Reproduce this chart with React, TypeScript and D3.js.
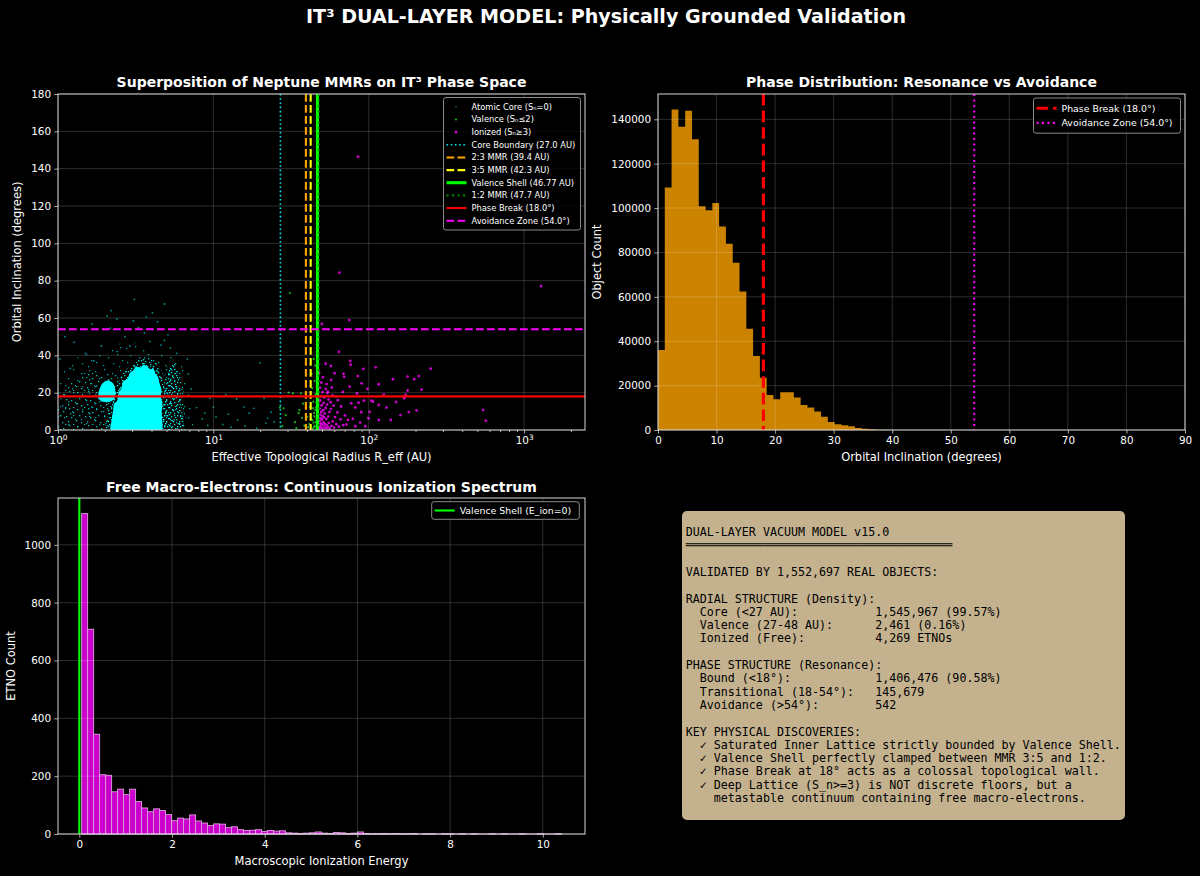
import { useEffect, useRef } from 'react';
import * as d3 from 'd3';

type Pt = [ number, number ];

const FONT = '"DejaVu Sans", sans-serif';
const MONO = '"DejaVu Sans Mono", monospace';
const FG = '#ffffff';
const SPINE = '#d6d6d6';

// ---------- panel 1: radius (AU) vs inclination (deg) ----------
const coreBoundaryAU = 27.0;
const mmr23AU = 39.4;
const mmr35AU = 42.3;
const valenceShellAU = 46.77;
const mmr12AU = 47.7;
const phaseBreakDeg = 18.0;
const avoidanceDeg = 54.0;

// saturated parts of the atomic core cloud (outlines)
const coreSaturated: Pt[][] = [
  [ [ 2.2, 0 ], [ 2.21, 5 ], [ 2.26, 10 ], [ 2.3, 14 ], [ 2.42, 16 ], [ 2.45, 20 ], [ 2.55, 22 ], [ 2.62, 26 ], [ 2.8, 27.5 ],
    [ 2.9, 30.5 ], [ 3.05, 32 ], [ 3.2, 34 ], [ 3.4, 33.5 ], [ 3.55, 35 ], [ 3.75, 34 ], [ 3.95, 32.5 ], [ 4.1, 33 ], [ 4.25, 30 ],
    [ 4.4, 28.5 ], [ 4.5, 25 ], [ 4.62, 22 ], [ 4.6, 18 ], [ 4.7, 14 ], [ 4.65, 9 ], [ 4.7, 4 ], [ 4.62, 0 ] ],
  [ [ 1.82, 17.5 ], [ 1.86, 22.5 ], [ 1.96, 25.5 ], [ 2.1, 26.5 ], [ 2.26, 25 ], [ 2.34, 21 ], [ 2.3, 16.5 ], [ 2.1, 15 ], [ 1.9, 15.4 ] ],
];
// crowded fringe hugging the saturated cloud, and the outer lobe
const coreFringe: Pt[][] = [
  [ [ 2.05, 0 ], [ 2.08, 8 ], [ 2.18, 15 ], [ 2.32, 21 ], [ 2.45, 26 ], [ 2.65, 31 ], [ 2.95, 35 ], [ 3.3, 38 ], [ 3.7, 39 ], [ 4.1, 37 ], [ 4.5, 34 ], [ 4.8, 28 ], [ 4.95, 20 ], [ 5.0, 10 ], [ 4.95, 0 ] ],
  [ [ 4.75, 0 ], [ 4.8, 12 ], [ 4.9, 24 ], [ 5.1, 31 ], [ 5.45, 35 ], [ 5.85, 32 ], [ 6.1, 24 ], [ 6.25, 12 ], [ 6.25, 0 ] ],
];
// well populated (speckled) parts
const coreDense: Pt[][] = [
  [ [ 4.55, 0 ], [ 4.62, 12 ], [ 4.72, 24 ], [ 4.98, 33 ], [ 5.4, 38 ], [ 5.95, 35 ], [ 6.35, 25 ], [ 6.5, 12 ], [ 6.5, 0 ] ],
  [ [ 1.02, 0 ], [ 1.02, 14 ], [ 1.1, 22 ], [ 1.3, 28 ], [ 1.55, 31 ], [ 1.8, 30 ], [ 2.2, 30 ], [ 2.5, 28 ], [ 2.5, 0 ] ],
];
// sparse halo around the cloud
const coreHalo: Pt[][] = [
  [ [ 1.0, 0 ], [ 1.0, 30 ], [ 1.15, 36 ], [ 1.45, 40 ], [ 1.9, 43 ], [ 2.4, 46 ], [ 3.0, 47 ], [ 3.6, 45 ], [ 4.3, 43 ], [ 5.0, 42 ], [ 5.8, 39 ], [ 6.5, 31 ], [ 7.0, 18 ], [ 7.3, 8 ], [ 7.4, 0 ] ],
];
const coreStray: Pt[] = [
  [ 3.1, 70 ], [ 4.85, 67.5 ], [ 2.07, 61 ], [ 2.4, 59.5 ], [ 4.05, 62.7 ], [ 3.05, 58.4 ], [ 3.3, 54.8 ], [ 1.11, 50 ],
  [ 1.27, 47 ], [ 4.85, 48 ], [ 4.37, 58 ], [ 2.17, 54.6 ], [ 1.66, 56.8 ], [ 3.6, 52 ], [ 2.7, 50 ], [ 1.9, 45 ],
  [ 5.3, 44 ], [ 4.6, 45.5 ], [ 3.9, 47.5 ], [ 2.9, 45 ], [ 1.5, 41 ], [ 6.8, 38 ], [ 7.2, 22 ], [ 7.8, 12 ],
  [ 8.5, 6 ], [ 6.9, 30 ], [ 1.03, 38 ], [ 1.2, 33 ], [ 1.7, 37 ], [ 2.4, 42 ], [ 5.8, 41 ], [ 5.1, 51 ],
  [ 3.7, 60.5 ], [ 2.2, 64 ], [ 10, 12.3 ], [ 12, 19 ], [ 14.1, 16.6 ], [ 15.7, 12.3 ], [ 18.2, 11.6 ], [ 19.9, 36 ],
  [ 21.2, 17 ], [ 22.4, 6.4 ], [ 24.6, 4.3 ], [ 14.3, 5.4 ], [ 10.4, 7 ], [ 17, 9 ], [ 21.8, 3.7 ], [ 9.2, 2.5 ],
  [ 11.5, 3 ], [ 13, 1.5 ], [ 16, 2.2 ], [ 19, 1 ], [ 23.5, 9.5 ], [ 9.5, 17 ], [ 8.8, 9 ], [ 12.5, 8.5 ],
];
const valencePts: Pt[] = [
  [ 31.1, 73.4 ], [ 32.5, 19.6 ], [ 36.6, 19.6 ], [ 35.8, 10.7 ], [ 35.4, 9.0 ], [ 28.3, 11.6 ], [ 29.2, 8.0 ], [ 27.8, 2.1 ],
  [ 33.5, 4.2 ], [ 37.8, 14.1 ], [ 39.6, 25.3 ], [ 40.2, 7.1 ], [ 41.0, 18.2 ], [ 41.5, 3.2 ], [ 42.0, 12.4 ], [ 42.8, 30.1 ],
  [ 43.2, 22.4 ], [ 43.5, 5.3 ], [ 44.0, 15.2 ], [ 44.5, 9.1 ], [ 44.8, 26.3 ], [ 45.0, 2.2 ], [ 45.2, 34.5 ], [ 45.5, 19.1 ],
  [ 45.8, 12.3 ], [ 46.0, 6.2 ], [ 46.2, 23.1 ], [ 46.4, 3.3 ], [ 46.6, 16.2 ], [ 46.8, 9.4 ], [ 47.0, 28.2 ], [ 47.2, 1.1 ],
  [ 47.4, 13.3 ], [ 47.6, 20.2 ], [ 47.8, 5.1 ], [ 44.2, 38.1 ], [ 46.5, 31.2 ], [ 38.5, 2.3 ], [ 43.8, 0.8 ], [ 46.9, 0.5 ],
  [ 47.5, 2.5 ], [ 45.6, 4.2 ], [ 44.4, 1.6 ], [ 44.7, 7.3 ], [ 45.3, 10.8 ], [ 44.1, 3.9 ], [ 43.9, 11.7 ], [ 46.1, 14.6 ],
  [ 45.9, 1.4 ], [ 47.1, 7.7 ], [ 40.8, 1.5 ], [ 42.5, 5.9 ], [ 30.5, 20.1 ], [ 26.8, 12.0 ], [ 34.2, 1.0 ], [ 37.2, 6.5 ],
];
const ionizedPts: Pt[] = [
  [ 85.3, 146.4 ], [ 64.8, 84.3 ], [ 1285, 77.1 ], [ 75.0, 58.9 ], [ 49.9, 56.8 ], [ 64.3, 41.9 ], [ 76.0, 37.0 ], [ 76.5, 35.0 ],
  [ 52.9, 35.5 ], [ 57.0, 34.3 ], [ 110.9, 33.6 ], [ 92.3, 32.7 ], [ 250, 32.8 ], [ 85.0, 28.9 ], [ 177.8, 28.6 ], [ 210, 28.9 ],
  [ 196, 27.2 ], [ 143, 27.2 ], [ 115.9, 24.5 ], [ 68.8, 30.1 ], [ 69.5, 28.5 ], [ 219, 21.6 ], [ 178, 21.2 ], [ 172.6, 18.9 ],
  [ 84.0, 19.6 ], [ 104, 15.7 ], [ 106.5, 15.2 ], [ 115.9, 13.4 ], [ 93.0, 15.7 ], [ 86.0, 14.6 ], [ 89.5, 9.5 ], [ 101.4, 9.7 ],
  [ 99.5, 6.3 ], [ 116, 5.4 ], [ 138.6, 5.4 ], [ 181, 9.6 ], [ 203, 10.5 ], [ 169, 17.0 ], [ 545, 10.7 ], [ 567, 5.0 ],
  [ 73.5, 5.4 ], [ 68.2, 20.4 ], [ 77.2, 14.3 ], [ 63.3, 16.0 ], [ 57.3, 26.8 ], [ 54.6, 20.5 ], [ 60.2, 30.4 ], [ 75.3, 23.2 ],
  [ 48.2, 0.8 ], [ 48.6, 2.1 ], [ 49.1, 3.5 ], [ 48.4, 4.9 ], [ 49.7, 1.2 ], [ 50.3, 2.8 ], [ 49.0, 6.3 ], [ 50.8, 0.5 ],
  [ 51.2, 4.1 ], [ 48.9, 8.2 ], [ 50.1, 5.6 ], [ 51.9, 1.9 ], [ 52.4, 3.3 ], [ 49.5, 9.7 ], [ 50.6, 7.4 ], [ 53.1, 0.9 ],
  [ 48.3, 11.5 ], [ 51.5, 6.8 ], [ 53.8, 2.5 ], [ 52.0, 8.9 ], [ 49.8, 13.2 ], [ 54.6, 1.4 ], [ 50.9, 10.6 ], [ 55.3, 3.8 ],
  [ 48.7, 15.8 ], [ 53.3, 5.9 ], [ 56.2, 0.7 ], [ 52.7, 11.8 ], [ 51.1, 14.5 ], [ 54.9, 7.2 ], [ 57.4, 2.2 ], [ 49.3, 18.1 ],
  [ 55.8, 9.6 ], [ 50.4, 20.3 ], [ 53.9, 13.6 ], [ 58.6, 4.6 ], [ 48.5, 22.7 ], [ 57.0, 11.2 ], [ 51.7, 17.4 ], [ 59.8, 1.3 ],
  [ 52.9, 21.9 ], [ 55.1, 16.3 ], [ 60.7, 6.9 ], [ 49.6, 25.4 ], [ 54.2, 19.8 ], [ 61.8, 3.1 ], [ 56.9, 14.9 ], [ 50.7, 28.2 ],
  [ 58.3, 18.5 ], [ 62.9, 9.4 ], [ 47.9, 30.6 ], [ 64.2, 1.8 ], [ 53.6, 24.6 ], [ 59.5, 13.1 ], [ 65.8, 5.7 ], [ 57.8, 22.8 ],
  [ 66.4, 12.6 ], [ 68.5, 2.6 ], [ 61.5, 17.9 ], [ 70.3, 7.8 ], [ 72, 3 ], [ 79, 6 ], [ 82, 2 ], [ 88, 4 ],
  [ 95, 2 ], [ 82, 12 ], [ 90, 25 ], [ 98, 22 ], [ 125, 19 ], [ 130, 12 ], [ 150, 15 ], [ 160, 8 ],
];

// ---------- panel 2: inclination histogram ----------
const incBinWidth = 1.16;
const incCounts = [
  36100, 109300, 144400, 136600, 143900, 131000, 100800, 99000, 102300, 91700, 83900, 75400,
  62400, 45600, 33400, 23600, 15800, 13800, 17000, 17000, 14700, 11300, 10100, 8300,
  6000, 3600, 2600, 2100, 1650, 900, 600, 300, 150, 80, 40, 20,
];

// ---------- panel 3: ionization energy histogram ----------
const eBinStart = 0.05;
const eBinWidth = 0.129375;
const eCounts = [
  1108, 708, 345, 205, 203, 146, 155, 136, 155, 112, 90, 77, 87, 81, 67, 46,
  55, 52, 66, 45, 38, 29, 35, 34, 22, 25, 15, 12, 13, 15, 9, 12,
  10, 11, 4, 3, 2, 3, 4, 7, 3, 2, 5, 4, 2, 3,
  7, 2, 1, 1, 2, 1, 2, 1, 1, 2, 0, 1, 1, 0, 1, 1,
  0, 1, 0, 1, 0, 0, 1, 0, 1, 0, 0, 1, 0, 0, 1, 0,
  0, 1,
];

// ---------- panel 4: summary ----------
const summaryHead = [ 'DUAL-LAYER VACUUM MODEL v15.0', '═'.repeat( 38 ), '', 'VALIDATED BY 1,552,697 REAL OBJECTS:', '' ];
const radialRows: [ string, string ][] = [
  [ 'Core (<27 AU):', '1,545,967 (99.57%)' ],
  [ 'Valence (27-48 AU):', '2,461 (0.16%)' ],
  [ 'Ionized (Free):', '4,269 ETNOs' ],
];
const phaseRows: [ string, string ][] = [
  [ 'Bound (<18°):', '1,406,476 (90.58%)' ],
  [ 'Transitional (18-54°):', '145,679' ],
  [ 'Avoidance (>54°):', '542' ],
];
const discoveries = [
  '✓ Saturated Inner Lattice strictly bounded by Valence Shell.',
  '✓ Valence Shell perfectly clamped between MMR 3:5 and 1:2.',
  '✓ Phase Break at 18° acts as a colossal topological wall.',
  '✓ Deep Lattice (S_n>=3) is NOT discrete floors, but a',
  '  metastable continuum containing free macro-electrons.',
];

type Box = { l: number; r: number; t: number; b: number };

export default function App() {
  const svgRef = useRef<SVGSVGElement>( null );

  useEffect( () => {
    if ( !svgRef.current ) return;
    const svg = d3.select( svgRef.current );
    svg.selectAll( '*' ).remove();
    svg.append( 'rect' ).attr( 'width', 1200 ).attr( 'height', 876 ).attr( 'fill', '#000' );
    const defs = svg.append( 'defs' );

    const txt = ( x: number, y: number, s: string, size: number, opts: any = {} ) =>
      svg.append( 'text' )
        .attr( 'x', x ).attr( 'y', y )
        .attr( 'fill', opts.fill || FG )
        .attr( 'font-family', opts.family || FONT )
        .attr( 'font-size', size )
        .attr( 'font-weight', opts.bold ? 'bold' : 'normal' )
        .attr( 'text-anchor', opts.anchor || 'middle' )
        .attr( 'transform', opts.rotate ? `rotate(-90,${ x },${ y })` : null )
        .style( 'white-space', 'pre' )
        .text( s );

    const grid = ( box: Box, xs: number[], ys: number[] ) => {
      const g = svg.append( 'g' ).attr( 'stroke', '#fff' ).attr( 'stroke-opacity', 0.22 ).attr( 'stroke-width', 0.8 );
      xs.forEach( x => g.append( 'line' ).attr( 'x1', x ).attr( 'x2', x ).attr( 'y1', box.t ).attr( 'y2', box.b ) );
      ys.forEach( y => g.append( 'line' ).attr( 'x1', box.l ).attr( 'x2', box.r ).attr( 'y1', y ).attr( 'y2', y ) );
    };

    const frame = ( box: Box ) =>
      svg.append( 'rect' ).attr( 'x', box.l ).attr( 'y', box.t ).attr( 'width', box.r - box.l ).attr( 'height', box.b - box.t )
        .attr( 'fill', 'none' ).attr( 'stroke', SPINE ).attr( 'stroke-width', 1 );

    const styleAxis = ( ax: any ) => {
      ax.attr( 'font-size', null ).attr( 'font-family', null );
      ax.select( '.domain' ).remove();
      ax.selectAll( 'line' ).attr( 'stroke', SPINE ).attr( 'stroke-width', 0.8 );
      ax.selectAll( 'text' ).attr( 'fill', FG ).attr( 'font-family', FONT ).attr( 'font-size', 10.4 );
      return ax;
    };
    const xAxis = ( box: Box, scale: any, ticks: number[], fmt: any, size = 3.6 ) =>
      styleAxis( svg.append( 'g' ).attr( 'transform', `translate(0,${ box.b })` )
        .call( d3.axisBottom( scale ).tickValues( ticks ).tickSize( size ).tickPadding( 3.4 ).tickFormat( fmt ) ) );
    const yAxis = ( box: Box, scale: any, ticks: number[] ) =>
      styleAxis( svg.append( 'g' ).attr( 'transform', `translate(${ box.l },0)` )
        .call( d3.axisLeft( scale ).tickValues( ticks ).tickSize( 3.6 ).tickPadding( 3.4 ).tickFormat( d3.format( 'd' ) ) ) );

    const vline = ( box: Box, x: number, color: string, w: number, dash: string | null ) =>
      svg.append( 'line' ).attr( 'x1', x ).attr( 'x2', x ).attr( 'y1', box.t ).attr( 'y2', box.b )
        .attr( 'stroke', color ).attr( 'stroke-width', w ).attr( 'stroke-dasharray', dash );
    const hline = ( box: Box, y: number, color: string, w: number, dash: string | null ) =>
      svg.append( 'line' ).attr( 'x1', box.l ).attr( 'x2', box.r ).attr( 'y1', y ).attr( 'y2', y )
        .attr( 'stroke', color ).attr( 'stroke-width', w ).attr( 'stroke-dasharray', dash );

    type Entry = { label: string; kind: 'dot' | 'line'; color: string; w?: number; dash?: string | null; r?: number; op?: number };
    const legend = ( x: number, y: number, w: number, rowH: number, size: number, entries: Entry[] ) => {
      const h = entries.length * rowH + 6;
      svg.append( 'rect' ).attr( 'x', x ).attr( 'y', y ).attr( 'width', w ).attr( 'height', h ).attr( 'rx', 2.5 )
        .attr( 'fill', '#000' ).attr( 'fill-opacity', 0.8 ).attr( 'stroke', '#8a8a8a' ).attr( 'stroke-width', 1 );
      entries.forEach( ( e, i ) => {
        const cy = y + 3 + rowH * ( i + 0.5 );
        if ( e.kind === 'dot' ) {
          svg.append( 'circle' ).attr( 'cx', x + 12.5 ).attr( 'cy', cy ).attr( 'r', e.r || 1.2 )
            .attr( 'fill', e.color ).attr( 'fill-opacity', e.op ?? 1 );
        } else {
          svg.append( 'line' ).attr( 'x1', x + 3 ).attr( 'x2', x + 23 ).attr( 'y1', cy ).attr( 'y2', cy )
            .attr( 'stroke', e.color ).attr( 'stroke-width', e.w || 2 ).attr( 'stroke-dasharray', e.dash || null );
        }
        txt( x + 28, cy + size * 0.36, e.label, size, { anchor: 'start' } );
      } );
    };

    // ============ panel 1 ============
    const b1: Box = { l: 58, r: 585, t: 94, b: 430 };
    const x1 = d3.scaleLog().domain( [ 1, 2465 ] ).range( [ b1.l, b1.r ] );
    const y1 = d3.scaleLinear().domain( [ 0, 180 ] ).range( [ b1.b, b1.t ] );

    defs.append( 'clipPath' ).attr( 'id', 'clip1' ).append( 'rect' )
      .attr( 'x', b1.l ).attr( 'y', b1.t ).attr( 'width', b1.r - b1.l ).attr( 'height', b1.b - b1.t );

    // speckle textures standing in for overlapping tiny markers
    const mkPattern = ( id: string, w: number, h: number, dots: Pt[], op: number ) => {
      const p = defs.append( 'pattern' ).attr( 'id', id ).attr( 'patternUnits', 'userSpaceOnUse' )
        .attr( 'width', w ).attr( 'height', h );
      dots.forEach( ( [ dx, dy ] ) => p.append( 'rect' ).attr( 'x', dx ).attr( 'y', dy ).attr( 'width', 1.3 ).attr( 'height', 1.3 )
        .attr( 'fill', '#00ffff' ).attr( 'fill-opacity', op ) );
    };
    mkPattern( 'halo', 31, 23, [ [ 2, 3 ], [ 11, 1 ], [ 19, 5 ], [ 27, 2 ], [ 6, 10 ], [ 15, 12 ], [ 24, 9 ], [ 29, 15 ], [ 3, 17 ], [ 10, 20 ], [ 20, 18 ], [ 26, 21 ] ], 0.6 );
    mkPattern( 'dense', 19, 17, [ [ 1, 1 ], [ 6, 3 ], [ 12, 0 ], [ 16, 4 ], [ 3, 7 ], [ 9, 8 ], [ 14, 9 ], [ 18, 11 ], [ 0, 12 ], [ 5, 14 ], [ 11, 13 ], [ 16, 16 ], [ 8, 16 ], [ 13, 5 ] ], 0.75 );
    mkPattern( 'fringe', 13, 11, [ [ 0, 0 ], [ 3, 2 ], [ 7, 1 ], [ 10, 3 ], [ 12, 0 ], [ 1, 5 ], [ 5, 6 ], [ 9, 5 ], [ 11, 8 ], [ 2, 9 ], [ 6, 10 ], [ 8, 8 ], [ 4, 3 ], [ 0, 7 ] ], 0.9 );

    const p1 = svg.append( 'g' ).attr( 'clip-path', 'url(#clip1)' );
    const blob = d3.line<Pt>().x( d => x1( d[ 0 ] ) ).y( d => y1( d[ 1 ] ) ).curve( d3.curveCatmullRomClosed.alpha( 0.5 ) );
    p1.append( 'g' ).selectAll( 'path' ).data( coreHalo ).join( 'path' ).attr( 'd', blob ).attr( 'fill', 'url(#halo)' );
    p1.append( 'g' ).selectAll( 'path' ).data( coreDense ).join( 'path' ).attr( 'd', blob ).attr( 'fill', 'url(#dense)' );
    p1.append( 'g' ).selectAll( 'path' ).data( coreFringe ).join( 'path' ).attr( 'd', blob ).attr( 'fill', 'url(#fringe)' );
    p1.append( 'g' ).selectAll( 'path' ).data( coreSaturated ).join( 'path' ).attr( 'd', blob ).attr( 'fill', '#00ffff' );
    p1.append( 'g' ).selectAll( 'circle' ).data( coreStray ).join( 'circle' )
      .attr( 'cx', d => x1( d[ 0 ] ) ).attr( 'cy', d => y1( d[ 1 ] ) ).attr( 'r', 0.9 ).attr( 'fill', '#00ffff' ).attr( 'fill-opacity', 0.55 );
    p1.append( 'g' ).selectAll( 'circle' ).data( valencePts ).join( 'circle' )
      .attr( 'cx', d => x1( d[ 0 ] ) ).attr( 'cy', d => y1( d[ 1 ] ) ).attr( 'r', 1.1 ).attr( 'fill', '#22dd22' ).attr( 'fill-opacity', 0.8 );
    p1.append( 'g' ).selectAll( 'circle' ).data( ionizedPts ).join( 'circle' )
      .attr( 'cx', d => x1( d[ 0 ] ) ).attr( 'cy', d => y1( d[ 1 ] ) ).attr( 'r', 1.4 ).attr( 'fill', '#ff00ff' ).attr( 'fill-opacity', 0.8 );

    const decades = [ 1, 10, 100, 1000 ];
    grid( b1, decades.map( d => x1( d ) ), d3.range( 0, 181, 20 ).map( d => y1( d ) ) );

    vline( b1, x1( coreBoundaryAU ), '#00e5ee', 1.6, '1.6,2.6' );
    vline( b1, x1( mmr23AU ), '#ffa500', 2.1, '7.7,3.3' );
    vline( b1, x1( mmr35AU ), '#ffff00', 2.1, '7.7,3.3' );
    vline( b1, x1( valenceShellAU ), '#00ff00', 3.1, null );
    vline( b1, x1( mmr12AU ), '#008000', 2.1, '2.1,3.4' );
    hline( b1, y1( phaseBreakDeg ), '#ff0000', 2.1, null );
    hline( b1, y1( avoidanceDeg ), '#ff00ff', 2.1, '7.7,3.3' );

    frame( b1 );
    const minor: number[] = [];
    decades.forEach( d => d3.range( 2, 10 ).forEach( k => { if ( d * k < 2465 ) minor.push( d * k ); } ) );
    xAxis( b1, x1, minor, () => '', 2 );
    const lx = xAxis( b1, x1, decades, () => '' );
    lx.selectAll( 'text' ).each( function ( d: any ) {
      const t = d3.select( this );
      t.append( 'tspan' ).text( '10' );
      t.append( 'tspan' ).attr( 'dy', -4.5 ).attr( 'font-size', 7.4 ).text( String( Math.round( Math.log10( d ) ) ) );
    } );
    yAxis( b1, y1, d3.range( 0, 181, 20 ) );

    txt( ( b1.l + b1.r ) / 2, 87, 'Superposition of Neptune MMRs on IT³ Phase Space', 14, { bold: true } );
    txt( ( b1.l + b1.r ) / 2, 461, 'Effective Topological Radius R_eff (AU)', 11.46 );
    txt( 21, ( b1.t + b1.b ) / 2, 'Orbital Inclination (degrees)', 11.46, { rotate: true } );

    legend( 443.5, 97.5, 137, 12.65, 8.3, [
      { label: 'Atomic Core (Sₙ=0)', kind: 'dot', color: '#00ffff', r: 0.8, op: 0.55 },
      { label: 'Valence (Sₙ≤2)', kind: 'dot', color: '#22dd22', r: 1.1, op: 0.8 },
      { label: 'Ionized (Sₙ≥3)', kind: 'dot', color: '#ff00ff', r: 1.4, op: 0.8 },
      { label: `Core Boundary (${ coreBoundaryAU.toFixed( 1 ) } AU)`, kind: 'line', color: '#00e5ee', w: 1.6, dash: '1.6,2.6' },
      { label: `2:3 MMR (${ mmr23AU } AU)`, kind: 'line', color: '#ffa500', w: 2.1, dash: '7.7,3.3' },
      { label: `3:5 MMR (${ mmr35AU } AU)`, kind: 'line', color: '#ffff00', w: 2.1, dash: '7.7,3.3' },
      { label: `Valence Shell (${ valenceShellAU } AU)`, kind: 'line', color: '#00ff00', w: 3.1 },
      { label: `1:2 MMR (${ mmr12AU } AU)`, kind: 'line', color: '#008000', w: 2.1, dash: '2.1,3.4' },
      { label: `Phase Break (${ phaseBreakDeg.toFixed( 1 ) }°)`, kind: 'line', color: '#ff0000', w: 2.1 },
      { label: `Avoidance Zone (${ avoidanceDeg.toFixed( 1 ) }°)`, kind: 'line', color: '#ff00ff', w: 2.1, dash: '7.7,3.3' },
    ] );

    // ============ panel 2 ============
    const b2: Box = { l: 658, r: 1185, t: 94, b: 430 };
    const x2 = d3.scaleLinear().domain( [ 0, 90 ] ).range( [ b2.l, b2.r ] );
    const y2 = d3.scaleLinear().domain( [ 0, 151400 ] ).range( [ b2.b, b2.t ] );
    const steps = incCounts.map( ( c, i ) => ( { x: i * incBinWidth, c } ) );
    steps.push( { x: incCounts.length * incBinWidth, c: incCounts[ incCounts.length - 1 ] } );
    svg.append( 'path' )
      .attr( 'd', d3.area<{ x: number; c: number }>().x( d => x2( d.x ) ).y0( y2( 0 ) ).y1( d => y2( d.c ) ).curve( d3.curveStepAfter )( steps ) )
      .attr( 'fill', '#cc8400' );
    grid( b2, d3.range( 0, 91, 10 ).map( d => x2( d ) ), d3.range( 0, 140001, 20000 ).map( d => y2( d ) ) );
    vline( b2, x2( phaseBreakDeg ), '#ff0000', 3.1, '11.6,5' );
    vline( b2, x2( avoidanceDeg ), '#ff00ff', 2.1, '2.1,3.4' );
    frame( b2 );
    xAxis( b2, x2, d3.range( 0, 91, 10 ), d3.format( 'd' ) );
    yAxis( b2, y2, d3.range( 0, 140001, 20000 ) );
    txt( ( b2.l + b2.r ) / 2, 87, 'Phase Distribution: Resonance vs Avoidance', 14, { bold: true } );
    txt( ( b2.l + b2.r ) / 2, 461, 'Orbital Inclination (degrees)', 11.46 );
    txt( 601, ( b2.t + b2.b ) / 2, 'Object Count', 11.46, { rotate: true } );
    legend( 1033.5, 98, 147, 14.6, 9.4, [
      { label: `Phase Break (${ phaseBreakDeg.toFixed( 1 ) }°)`, kind: 'line', color: '#ff0000', w: 3.1, dash: '11.6,5' },
      { label: `Avoidance Zone (${ avoidanceDeg.toFixed( 1 ) }°)`, kind: 'line', color: '#ff00ff', w: 2.1, dash: '2.1,3.4' },
    ] );

    // ============ panel 3 ============
    const b3: Box = { l: 58, r: 585, t: 498, b: 834 };
    const x3 = d3.scaleLinear().domain( [ -0.46, 10.91 ] ).range( [ b3.l, b3.r ] );
    const y3 = d3.scaleLinear().domain( [ 0, 1162 ] ).range( [ b3.b, b3.t ] );
    svg.append( 'line' ).attr( 'x1', x3( eBinStart ) ).attr( 'x2', x3( eBinStart + eCounts.length * eBinWidth ) )
      .attr( 'y1', y3( 0 ) ).attr( 'y2', y3( 0 ) ).attr( 'stroke', '#dda0dd' ).attr( 'stroke-width', 0.9 );
    svg.append( 'g' ).selectAll( 'rect' ).data( eCounts ).join( 'rect' )
      .attr( 'x', ( _, i ) => x3( eBinStart + i * eBinWidth ) )
      .attr( 'width', ( _, i ) => x3( eBinStart + ( i + 1 ) * eBinWidth ) - x3( eBinStart + i * eBinWidth ) )
      .attr( 'y', d => y3( d ) )
      .attr( 'height', d => y3( 0 ) - y3( d ) )
      .attr( 'fill', '#cc00cc' ).attr( 'stroke', '#dda0dd' ).attr( 'stroke-width', 0.9 );
    grid( b3, d3.range( 0, 11, 2 ).map( d => x3( d ) ), d3.range( 0, 1001, 200 ).map( d => y3( d ) ) );
    vline( b3, x3( 0 ), '#00ff00', 2.1, null );
    frame( b3 );
    xAxis( b3, x3, d3.range( 0, 11, 2 ), d3.format( 'd' ) );
    yAxis( b3, y3, d3.range( 0, 1001, 200 ) );
    txt( ( b3.l + b3.r ) / 2, 492, 'Free Macro-Electrons: Continuous Ionization Spectrum', 14, { bold: true } );
    txt( ( b3.l + b3.r ) / 2, 865, 'Macroscopic Ionization Energy', 11.46 );
    txt( 15, ( b3.t + b3.b ) / 2, 'ETNO Count', 11.46, { rotate: true } );
    legend( 431.7, 501.7, 147.6, 11.6, 9.4, [
      { label: 'Valence Shell (E_ion=0)', kind: 'line', color: '#00ff00', w: 2.1 },
    ] );

    // ============ panel 4: summary text ============
    svg.append( 'rect' ).attr( 'x', 682 ).attr( 'y', 511 ).attr( 'width', 443 ).attr( 'height', 309 ).attr( 'rx', 5 )
      .attr( 'fill', '#c4b28f' );
    const row = ( [ k, v ]: [ string, string ] ) => ( '  ' + k ).padEnd( 27 ) + v;
    const lines = [
      ...summaryHead,
      'RADIAL STRUCTURE (Density):', ...radialRows.map( row ), '',
      'PHASE STRUCTURE (Resonance):', ...phaseRows.map( row ), '',
      'KEY PHYSICAL DISCOVERIES:', ...discoveries.map( s => '  ' + s ),
    ];
    lines.forEach( ( s, i ) => {
      if ( s ) txt( 685.7, 536 + i * 13.3, s, 11.67, { anchor: 'start', family: MONO, fill: '#000' } );
    } );

    txt( 606, 23, 'IT³ DUAL-LAYER MODEL: Physically Grounded Validation', 19.1, { bold: true } );
  }, [] );

  return (
    <svg ref={ svgRef } width={ 1200 } height={ 876 }
      style={ { position: 'absolute', left: 0, top: 0, display: 'block', background: '#000' } } />
  );
}
